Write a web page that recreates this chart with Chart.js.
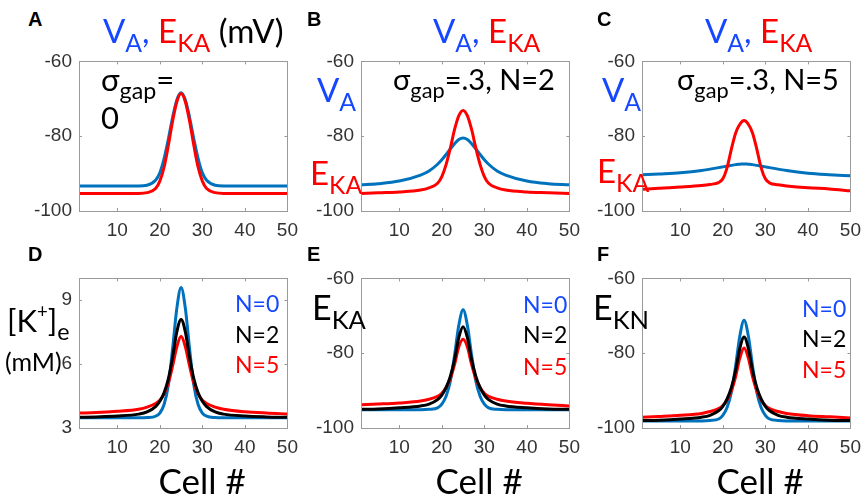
<!DOCTYPE html>
<html>
<head>
<meta charset="utf-8">
<script src="https://cdn.jsdelivr.net/npm/chart.js@4"></script>
<style>
  html, body { margin: 0; padding: 0; background: #fff; }
  #fig { position: relative; width: 864px; height: 496px; overflow: hidden; }
  #fig canvas { position: absolute; }
  .txt { position: absolute; line-height: 1; white-space: nowrap; font-family: Lato, "Noto Sans", sans-serif; }
  .txt sub { font-size: 0.75em; vertical-align: -0.35em; line-height: 0; }
  .txt sup { font-size: 0.6em; vertical-align: 0.75em; line-height: 0; }
  .letter { font-family: "Liberation Sans", Arial, sans-serif; font-weight: bold; }
</style>
</head>
<body>
<div id="fig"></div>
<script>
// cell positions sampled along the chain
const cells = [1, 5, 10, 15, 17, 19, 20, 21, 22, 23, 24, 25, 26, 27, 28, 29, 30, 31, 33, 35, 40, 45, 50];
const xTicks = [10, 20, 30, 40, 50];
const mvTicks = [-100, -80, -60];
const kTicks = [3, 6, 9];

// A: sigma_gap = 0
const vA_A  = [-93.3, -93.3, -93.3, -93.3, -93.1, -91.8, -89.8, -86.0, -80.8, -75.0, -70.3, -68.4, -70.3, -75.0, -80.8, -86.0, -89.8, -91.8, -93.1, -93.3, -93.3, -93.3, -93.3];
const eKA_A = [-95.3, -95.3, -95.3, -95.3, -95.1, -94.0, -92.0, -88.3, -82.5, -76.0, -70.8, -68.6, -70.8, -76.0, -82.5, -88.3, -92.0, -94.0, -95.1, -95.3, -95.3, -95.3, -95.3];
// B: sigma_gap = .3, N = 2
const vA_B  = [-93.0, -92.7, -92.0, -90.4, -89.3, -87.5, -86.3, -84.9, -83.4, -82.0, -80.9, -80.5, -80.9, -82.0, -83.4, -84.9, -86.3, -87.5, -89.3, -90.4, -92.0, -92.7, -93.0];
const eKA_B = [-95.3, -95.1, -94.9, -94.4, -93.8, -92.6, -90.8, -87.6, -83.2, -78.2, -74.5, -73.1, -74.5, -78.2, -83.2, -87.6, -90.8, -92.6, -93.8, -94.4, -94.9, -95.1, -95.3];
// C: sigma_gap = .3, N = 5
const vA_C  = [-90.3, -90.1, -89.8, -89.2, -88.8, -88.4, -88.2, -88.0, -87.8, -87.6, -87.5, -87.4, -87.5, -87.6, -87.8, -88.0, -88.2, -88.4, -88.8, -89.2, -89.9, -90.3, -90.6];
const eKA_C = [-94.2, -93.9, -93.6, -93.2, -92.9, -92.4, -91.4, -88.4, -83.5, -79.2, -76.8, -75.8, -76.8, -79.2, -83.5, -88.4, -91.4, -92.5, -93.0, -93.3, -93.8, -94.1, -94.6];
// D: [K+]e for N = 0, 2, 5
const kN0 = [3.48, 3.48, 3.48, 3.48, 3.49, 3.55, 3.70, 4.10, 5.00, 6.70, 8.60, 9.58, 8.60, 6.70, 5.00, 4.10, 3.70, 3.55, 3.49, 3.48, 3.48, 3.48, 3.48];
const kN2 = [3.50, 3.52, 3.56, 3.65, 3.75, 4.00, 4.25, 4.65, 5.30, 6.30, 7.50, 8.08, 7.50, 6.30, 5.30, 4.65, 4.25, 4.00, 3.75, 3.65, 3.56, 3.52, 3.50];
const kN5 = [3.70, 3.72, 3.78, 3.88, 3.98, 4.15, 4.30, 4.60, 5.10, 5.90, 6.80, 7.29, 6.80, 5.90, 5.10, 4.60, 4.30, 4.15, 3.98, 3.88, 3.76, 3.70, 3.66];
// E: E_KA for N = 0, 2, 5
const eKAN0 = [-95.1, -95.1, -95.1, -95.1, -95.0, -94.6, -93.6, -91.5, -87.5, -80.5, -72.5, -68.4, -72.5, -80.5, -87.5, -91.5, -93.6, -94.6, -95.0, -95.1, -95.1, -95.1, -95.1];
const eKAN2 = [-95.0, -94.9, -94.6, -94.1, -93.6, -92.4, -91.2, -89.2, -86.2, -81.7, -75.8, -72.9, -75.8, -81.7, -86.2, -89.2, -91.2, -92.4, -93.6, -94.1, -94.6, -94.9, -95.0];
const eKAN5 = [-93.8, -93.6, -93.3, -92.8, -92.3, -91.5, -90.7, -89.2, -86.8, -83.0, -78.3, -76.3, -78.3, -83.0, -86.8, -89.2, -90.7, -91.5, -92.3, -92.8, -93.4, -93.8, -94.1];
// F: E_KN for N = 0, 2, 5
const eKNN0 = [-98.1, -98.1, -98.1, -98.1, -98.0, -97.6, -96.6, -94.5, -90.5, -83.5, -75.4, -71.2, -75.4, -83.5, -90.5, -94.5, -96.6, -97.6, -98.0, -98.1, -98.1, -98.1, -98.1];
const eKNN2 = [-98.0, -97.9, -97.6, -97.1, -96.6, -95.4, -94.2, -92.2, -89.2, -84.7, -78.7, -75.7, -78.7, -84.7, -89.2, -92.2, -94.2, -95.4, -96.6, -97.1, -97.6, -97.9, -98.0];
const eKNN5 = [-97.1, -96.9, -96.6, -96.1, -95.6, -94.8, -94.0, -92.5, -90.1, -86.3, -81.3, -78.6, -81.3, -86.3, -90.1, -92.5, -94.0, -94.8, -95.6, -96.1, -96.7, -97.0, -97.3];

const BLUE = '#0072BD';
const RED = '#FF0000';
const TXT_BLUE = '#1447FF';

const fig = document.getElementById('fig');
const PAD_L = 60, PAD_T = 12, PAD_R = 14, PAD_B = 32;
const PW = 213, PH = 156;

// box + inward ticks on all four sides, like matlab
const boxPlugin = {
    id: 'box',
    afterDraw(chart) {
        const { ctx, chartArea: a, scales } = chart;
        ctx.save();
        ctx.strokeStyle = '#9a9a9a';
        ctx.lineWidth = 1;
        ctx.strokeRect(Math.round(a.left) + 0.5, Math.round(a.top) + 0.5, Math.round(a.right - a.left), Math.round(a.bottom - a.top));
        ctx.beginPath();
        scales.x.ticks.forEach(t => {
            const px = Math.round(scales.x.getPixelForValue(t.value)) + 0.5;
            ctx.moveTo(px, a.bottom); ctx.lineTo(px, a.bottom - 3);
            ctx.moveTo(px, a.top); ctx.lineTo(px, a.top + 3);
        });
        scales.y.ticks.forEach(t => {
            const py = Math.round(scales.y.getPixelForValue(t.value)) + 0.5;
            ctx.moveTo(a.left, py); ctx.lineTo(a.left + 3, py);
            ctx.moveTo(a.right, py); ctx.lineTo(a.right - 3, py);
        });
        ctx.stroke();
        ctx.restore();
    }
};

function makePanel(left, top, series, yMin, yMax, yTicks) {
    const cv = document.createElement('canvas');
    cv.width = PW + PAD_L + PAD_R;
    cv.height = PH + PAD_T + PAD_B;
    cv.style.left = (left - PAD_L) + 'px';
    cv.style.top = (top - PAD_T) + 'px';
    fig.appendChild(cv);
    new Chart(cv.getContext('2d'), {
        type: 'line',
        data: {
            datasets: series.map(s => ({
                data: cells.map((c, j) => ({ x: c, y: s.values[j] })),
                borderColor: s.color,
                borderWidth: 3,
                pointRadius: 0,
                cubicInterpolationMode: 'monotone',
                order: s.order
            }))
        },
        options: {
            responsive: false,
            animation: false,
            devicePixelRatio: 1,
            layout: { padding: { top: PAD_T, right: PAD_R, left: 0, bottom: 0 } },
            plugins: { legend: { display: false }, tooltip: { enabled: false } },
            scales: {
                x: {
                    type: 'linear', min: 1, max: 50,
                    afterBuildTicks: s => { s.ticks = xTicks.map(v => ({ value: v })); },
                    afterFit: s => { s.height = PAD_B; },
                    grid: { display: false, drawTicks: false },
                    border: { display: false },
                    ticks: { color: '#333', padding: 8, font: { family: 'Liberation Sans', size: 19 } }
                },
                y: {
                    min: yMin, max: yMax,
                    afterBuildTicks: s => { s.ticks = yTicks.map(v => ({ value: v })); },
                    afterFit: s => { s.width = PAD_L; },
                    grid: { display: false, drawTicks: false },
                    border: { display: false },
                    ticks: { color: '#333', padding: 7, font: { family: 'Liberation Sans', size: 19 } }
                }
            }
        },
        plugins: [boxPlugin]
    });
}

makePanel(79, 55, [{ values: vA_A, color: BLUE, order: 2 }, { values: eKA_A, color: RED, order: 1 }], -100, -60, mvTicks);
makePanel(361, 55, [{ values: vA_B, color: BLUE, order: 2 }, { values: eKA_B, color: RED, order: 1 }], -100, -60, mvTicks);
makePanel(642, 55, [{ values: vA_C, color: BLUE, order: 2 }, { values: eKA_C, color: RED, order: 1 }], -100, -60, mvTicks);
makePanel(79, 272, [{ values: kN0, color: BLUE, order: 3 }, { values: kN5, color: RED, order: 2 }, { values: kN2, color: '#000', order: 1 }], 3, 10, kTicks);
makePanel(361, 272, [{ values: eKAN0, color: BLUE, order: 3 }, { values: eKAN5, color: RED, order: 2 }, { values: eKAN2, color: '#000', order: 1 }], -100, -60, mvTicks);
makePanel(642, 272, [{ values: eKNN0, color: BLUE, order: 3 }, { values: eKNN5, color: RED, order: 2 }, { values: eKNN2, color: '#000', order: 1 }], -100, -60, mvTicks);

// text: left, baseline, size
function label(html, x, base, size, color, cls) {
    const d = document.createElement('div');
    d.className = 'txt' + (cls ? ' ' + cls : '');
    d.innerHTML = html;
    d.style.left = x + 'px';
    d.style.top = (base - 0.89 * size) + 'px';
    d.style.fontSize = size + 'px';
    d.style.color = color || '#000';
    fig.appendChild(d);
    return d;
}

const VA = '<span style="color:' + TXT_BLUE + '">V<sub>A</sub>,</span>';
const EKA = '<span style="color:' + RED + '">E<sub>KA</sub></span>';

// panel letters
label('A', 28, 27, 20, '#000', 'letter');
label('B', 307, 27, 20, '#000', 'letter');
label('C', 597, 27, 20, '#000', 'letter');
label('D', 28, 262, 20, '#000', 'letter');
label('E', 307, 262, 20, '#000', 'letter');
label('F', 597, 262, 20, '#000', 'letter');

// titles
label(VA + ' ' + EKA + ' (mV)', 103, 43, 33);
label(VA + ' ' + EKA, 433, 43, 33);
label(VA + ' ' + EKA, 705, 43, 33);

// annotations
label('σ<sub>gap</sub>=', 101, 92, 31);
label('0', 101, 130, 31);
label('σ<sub>gap</sub>=.3, N=2', 393, 90, 29);
label('σ<sub>gap</sub>=.3, N=5', 677, 90, 29);
label('V<sub>A</sub>', 317, 102, 33, TXT_BLUE);
label('E<sub>KA</sub>', 310, 185, 33, RED);
label('V<sub>A</sub>', 602, 102, 33, TXT_BLUE);
label('E<sub>KA</sub>', 597, 183, 33, RED);

// bottom row labels
label('[K<sup>+</sup>]<sub>e</sub>', 7, 333, 31);
label('(mM)', 5, 371, 25);
label('E<sub>KA</sub>', 312, 320, 34);
label('E<sub>KN</sub>', 593, 320, 34);

const legendX = [235, 523, 802];
const legendBase = [[312, 343, 373], [313, 343, 375], [317, 347, 378]];
legendX.forEach((x, i) => {
    label('N=0', x, legendBase[i][0], 23, TXT_BLUE);
    label('N=2', x, legendBase[i][1], 23, '#000');
    label('N=5', x, legendBase[i][2], 23, RED);
});

// x axis titles
[202, 479, 760].forEach(cx => {
    const d = label('Cell #', 0, 494, 35);
    d.style.left = (cx - d.offsetWidth / 2) + 'px';
});
</script>
</body>
</html>
